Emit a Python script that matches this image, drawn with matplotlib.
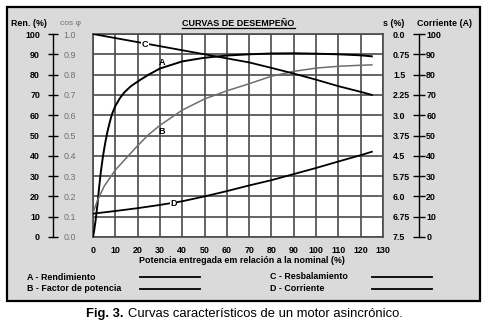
import matplotlib
matplotlib.use("Agg")
import matplotlib.pyplot as plt
from matplotlib.patches import Rectangle
from matplotlib.lines import Line2D

plt.rcParams['font.family'] = ['Liberation Sans', 'DejaVu Sans']

# potencia entregada (% de la nominal) y curvas en escala 0-100
pot_a = [0, 0.5, 1.2, 2, 2.7, 3.5, 4.5, 5.5, 6.5, 7.5, 8.5, 10, 12, 14, 17, 21, 25, 30, 40, 50, 60, 70, 80, 90, 100, 110, 120, 125]
rendimiento = [0, 3, 8.5, 16, 24, 32, 40, 46.5, 52, 56.5, 60.5, 64.5, 68.3, 71.2, 74.3, 77.3, 80, 83, 86.5, 88.3, 89.4, 90, 90.4, 90.5, 90.3, 90, 89.5, 89]

pot_b = [0, 2, 5, 10, 15, 20, 25, 30, 40, 50, 60, 70, 80, 90, 100, 110, 120, 125]
factor_pot = [12, 18, 25, 33, 39, 45, 50.5, 55, 62.5, 68, 72, 75.5, 79.2, 81.6, 83.2, 84.1, 84.6, 84.8]

pot_c = [0, 10, 20, 30, 40, 50, 60, 70, 80, 90, 100, 110, 120, 125]
resbalamiento = [100, 98, 96, 94, 92, 90, 88, 86, 83.3, 80.5, 77.5, 74.3, 71.5, 70]

pot_d = [0, 10, 20, 30, 40, 50, 60, 70, 80, 90, 100, 110, 120, 125]
corriente = [11.5, 12.8, 14.2, 15.8, 17.6, 20, 22.6, 25.4, 28, 31, 34, 37.2, 40.3, 42]

x_ticks = list(range(0, 131, 10))
y_ticks = list(range(0, 101, 10))
ren_labels = [str(v) for v in y_ticks]
cos_labels = ['0.0', '0.1', '0.2', '0.3', '0.4', '0.5', '0.6', '0.7', '0.8', '0.9', '1.0']
s_labels = ['7.5', '6.75', '6.0', '5.75', '4.5', '3.75', '3.0', '2.25', '1.5', '0.75', '0.0']
corr_labels = [str(v) for v in y_ticks]

W, H = 488, 331
fig = plt.figure(figsize=(W / 100, H / 100), dpi=100)
fig.patch.set_facecolor('white')


def fx(px):
    return px / W


def fy(py):
    return 1 - py / H


# marco gris
fig.patches.append(Rectangle((fx(7), fy(301)), 473 / W, 294 / H, transform=fig.transFigure,
                             fc='#dadada', ec='black', lw=1.6, zorder=-5))

FS = 6.4
GRID = '#4a4a4a'
top, bot = 34, 237
ax_pos = [fx(93), fy(bot), 290 / W, (bot - top) / H]

ax = fig.add_axes(ax_pos)
ax.set_zorder(1)
ax.set_facecolor('white')
ax.set_xlim(0, 130)
ax.set_ylim(0, 100)
ax.set_xticks(x_ticks)
ax.set_xticklabels([str(v) for v in x_ticks], fontsize=FS, fontweight='bold')
ax.set_yticks(y_ticks)
ax.yaxis.tick_right()
ax.set_yticklabels(s_labels, fontsize=FS, fontweight='bold')
ax.tick_params(axis='x', length=0, pad=6.5)
ax.tick_params(axis='y', length=0, pad=7.2)
ax.grid(True, color=GRID, lw=1.2)
for sp in ax.spines.values():
    sp.set_color(GRID)
    sp.set_linewidth(1.2)

ax.plot(pot_a, rendimiento, color='black', lw=1.4, zorder=3)
ax.plot(pot_b, factor_pot, color='#6e6e6e', lw=1.1, zorder=3)
ax.plot(pot_c, resbalamiento, color='black', lw=1.3, zorder=3)
ax.plot(pot_d, corriente, color='black', lw=1.3, zorder=3)

lab_kw = dict(fontsize=6.5, fontweight='bold', ha='center', va='center', zorder=4)
ax.text(30.8, 86.1, 'A', **lab_kw)
ax.text(30.8, 51.9, 'B', **lab_kw)
ax.text(23.3, 94.6, 'C', bbox=dict(fc='white', ec='none', pad=0.3), **lab_kw)
ax.text(36, 16.6, 'D', bbox=dict(fc='white', ec='none', pad=0.3), **lab_kw)


def side_scale(x_px, labels, side, tick_len, pad, color='black', weight='bold'):
    s = fig.add_axes([fx(x_px), fy(bot), 1e-6, (bot - top) / H])
    s.set_zorder(1)
    s.set_facecolor('none')
    s.set_ylim(0, 100)
    s.set_xticks([])
    s.set_yticks(y_ticks)
    for sp in s.spines.values():
        sp.set_visible(False)
    if side == 'right':
        s.yaxis.tick_right()
    if tick_len:
        s.spines[side].set_visible(True)
        s.spines[side].set_linewidth(1)
    s.set_yticklabels(labels, fontsize=FS, fontweight=weight, color=color)
    s.tick_params(axis='y', direction='inout', length=tick_len, width=1, pad=pad)
    return s


side_scale(52.5, ren_labels, 'left', 7.9, 5.0)
side_scale(52.5, cos_labels, 'right', 0, 8.1, color='#707070', weight='normal')
side_scale(419.3, corr_labels, 'right', 8.6, 0.7)

# encabezados de escalas y titulo
fig.text(fx(28.5), fy(23.5), 'Ren. (%)', fontsize=FS, fontweight='bold', ha='center', va='center')
fig.text(fx(70.5), fy(23.5), 'cos φ', fontsize=FS - 0.3, color='#707070', ha='center', va='center')
fig.text(fx(394), fy(23.5), 's (%)', fontsize=FS, fontweight='bold', ha='center', va='center')
fig.text(fx(444.5), fy(23.5), 'Corriente (A)', fontsize=FS, fontweight='bold', ha='center', va='center')
fig.text(fx(238.5), fy(23), 'CURVAS DE DESEMPEÑO', fontsize=6.5, fontweight='bold', ha='center', va='center')
fig.add_artist(Line2D([fx(182), fx(295)], [fy(28), fy(28)], color='black', lw=0.9))

fig.text(fx(241.5), fy(260.5), 'Potencia entregada em relación a la nominal (%)',
         fontsize=FS, fontweight='bold', ha='center', va='center')

# leyenda
legend_items = [('A - Rendimiento', 27, 277, 140), ('B - Factor de potencia', 27, 288.5, 140),
                ('C - Resbalamiento', 270, 276.5, 372), ('D - Corriente', 270, 288.5, 372)]
for txt, tx, ty, lx in legend_items:
    fig.text(fx(tx), fy(ty), txt, fontsize=FS, fontweight='bold', ha='left', va='center')
    fig.add_artist(Line2D([fx(lx), fx(lx + 60)], [fy(ty), fy(ty)], color='black', lw=1.3))

# pie de figura
fig.text(fx(86), fy(316.7), 'Fig. 3.', fontsize=9.4, fontweight='bold', ha='left', va='baseline')
fig.text(fx(128.5), fy(316.7), 'Curvas característicos de un motor asincrónico.',
         fontsize=9.4, ha='left', va='baseline')

fig.savefig('out.png', dpi=100)
